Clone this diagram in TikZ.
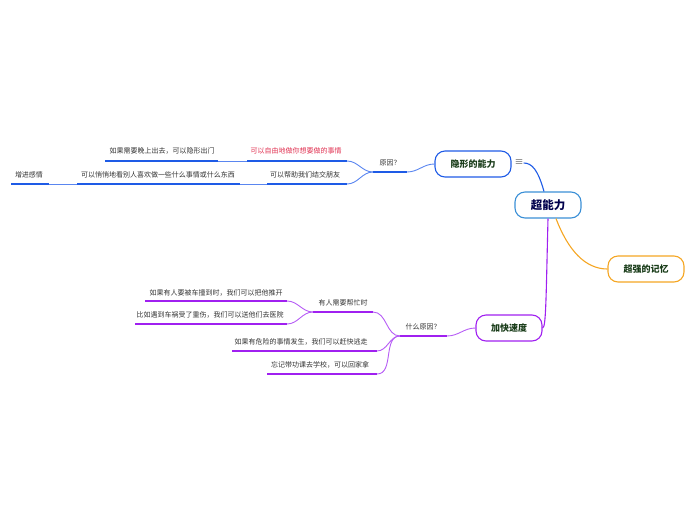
\documentclass[tikz,border=0pt]{standalone}
\usepackage{fontspec}
\setmainfont{Noto Sans CJK SC}
\begin{document}
\begin{tikzpicture}[x=1pt,y=-1pt,
  leaf/.style={font=\fontsize{7}{8}\selectfont, text=black!80, inner sep=0pt, anchor=center},
  topic/.style={draw, rounded corners=10pt, line width=1.1pt, minimum height=26pt, font=\fontsize{9}{11}\bfseries, text=green!15!black!90, inner sep=0pt},
  bline/.style={draw=bluec, line width=1.6pt},
  bcurve/.style={draw=bluel, line width=0.9pt},
  pline/.style={draw=purc, line width=1.6pt},
  pcurve/.style={draw=purl, line width=0.9pt}]
\definecolor{bluec}{HTML}{1E5BE6}
\definecolor{bluel}{HTML}{5A86F0}
\definecolor{purc}{HTML}{A020F0}
\definecolor{purl}{HTML}{B65CF5}
\definecolor{orc}{HTML}{F5A623}
\definecolor{cent}{HTML}{3A8FD6}
\definecolor{redt}{HTML}{E03050}
\useasboundingbox (0,0) rectangle (696,520);
% central and main topics
\node[topic, draw=cent, minimum width=66pt, font=\fontsize{11.5}{13}\bfseries, text=blue!30!black] (root) at (548,205) {超能力};
\node[topic, draw=bluec, minimum width=76pt] (yin) at (473,164) {隐形的能力};
\node[font=\fontsize{9}{9}\selectfont, text=black!70, inner sep=0pt] (menu) at (519,163) {≡};
\node[topic, draw=orc, minimum width=76pt] (mem) at (646,269) {超强的记忆};
\node[topic, draw=purc, minimum width=66pt] (spd) at (509,328) {加快速度};
% connectors root
\draw[draw=bluec, line width=1.1pt] (root.north) ++(-4,0) coordinate (r1) .. controls (538,170) and (532,163) .. (menu.east);
\draw[draw=orc, line width=1.1pt] (root.south) ++(8,0) coordinate (r2) .. controls (568,250) and (585,269) .. (mem.west);
\draw[draw=purc, line width=1.1pt] (root.south) coordinate (r3) .. controls (546,300) and (546,328) .. (spd.east);
% upper branch
\coordinate (yyR) at (407,172); \coordinate (yyL) at (373,172);
\node[leaf] (yy) at (390,163) {原因？};
\draw[bcurve] (yin.west) to[out=180,in=0] (yyR);
\draw[bline] (yyL) -- (yyR);
\coordinate (a1R) at (347,161); \coordinate (a1L) at (247,161);
\node[leaf, text=redt] (a1) at (296,151) {可以自由地做你想要做的事情};
\draw[bline] (a1L) -- (a1R);
\draw[bcurve] (yyL) to[out=180,in=0] (a1R);
\coordinate (a2R) at (347,184); \coordinate (a2L) at (267,184);
\node[leaf] (a2) at (305,175) {可以帮助我们结交朋友};
\draw[bline] (a2L) -- (a2R);
\draw[bcurve] (yyL) to[out=180,in=0] (a2R);
\coordinate (b1R) at (218,161); \coordinate (b1L) at (105,161);
\node[leaf] (b1) at (162,151) {如果需要晚上出去，可以隐形出门};
\draw[bline] (b1L) -- (b1R);
\draw[bcurve] (a1L) -- (b1R);
\coordinate (b2R) at (240,184); \coordinate (b2L) at (77,184);
\node[leaf] (b2) at (158,175) {可以悄悄地看别人喜欢做一些什么事情或什么东西};
\draw[bline] (b2L) -- (b2R);
\draw[bcurve] (a2L) -- (b2R);
\coordinate (c1R) at (49,184); \coordinate (c1L) at (11,184);
\node[leaf] (c1) at (29,175) {增进感情};
\draw[bline] (c1L) -- (c1R);
\draw[bcurve] (b2L) -- (c1R);
% lower branch
\coordinate (wyR) at (447,336); \coordinate (wyL) at (400,336);
\node[leaf] (wy) at (423,327) {什么原因？};
\draw[pcurve] (spd.west) to[out=180,in=0] (wyR);
\draw[pline] (wyL) -- (wyR);
\coordinate (d1R) at (373,312); \coordinate (d1L) at (313,312);
\node[leaf] (d1) at (343,303) {有人需要帮忙时};
\draw[pline] (d1L) -- (d1R);
\draw[pcurve] (wyL) to[out=180,in=0] (d1R);
\coordinate (d2R) at (377,351); \coordinate (d2L) at (232,351);
\node[leaf] (d2) at (301,342) {如果有危险的事情发生，我们可以赶快逃走};
\draw[pline] (d2L) -- (d2R);
\draw[pcurve] (wyL) to[out=180,in=0] (d2R);
\coordinate (d3R) at (377,374); \coordinate (d3L) at (267,374);
\node[leaf] (d3) at (320,365) {忘记带功课去学校，可以回家拿};
\draw[pline] (d3L) -- (d3R);
\draw[pcurve] (wyL) to[out=180,in=0] (d3R);
\coordinate (e1R) at (287,301); \coordinate (e1L) at (145,301);
\node[leaf] (e1) at (216,293) {如果有人要被车撞到时，我们可以把他推开};
\draw[pline] (e1L) -- (e1R);
\draw[pcurve] (d1L) to[out=180,in=0] (e1R);
\coordinate (e2R) at (287,324); \coordinate (e2L) at (135,324);
\node[leaf] (e2) at (210,315) {比如遇到车祸受了重伤，我们可以送他们去医院};
\draw[pline] (e2L) -- (e2R);
\draw[pcurve] (d1L) to[out=180,in=0] (e2R);
\end{tikzpicture}
\end{document}
